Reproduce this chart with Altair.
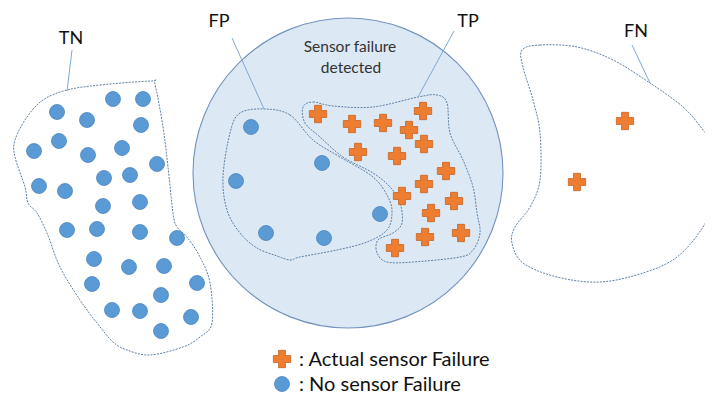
import altair as alt
import pandas as pd

# ---- data (pixel positions) ----
tn_x = [113, 143, 57, 87, 141, 34, 59, 88, 122, 157, 104, 130, 39, 65, 103, 140, 67, 97, 140, 177, 94, 129, 164, 197, 92, 161, 112, 140, 191, 161]
tn_y = [99, 99, 112, 120, 125, 151, 141, 155, 148, 164, 178, 175, 186, 191, 206, 202, 230, 229, 232, 238, 259, 267, 266, 283, 284, 295, 310, 311, 317, 331]

fp_x = [251, 322, 236, 380, 266, 324]
fp_y = [127, 163, 181, 214, 233, 238]

tp_x = [318, 352, 383, 423, 409, 424, 358, 397, 446, 424, 402, 454, 431, 395, 425, 461]
tp_y = [114, 124, 123, 111, 130, 144, 152, 156, 171, 184, 196, 201, 213, 248, 237, 233]

fn_x = [625, 577]
fn_y = [121, 182]

tn_out_x = [67, 100, 152, 155, 163, 168, 173, 177, 187, 200, 210, 212, 200, 183, 150, 127, 113, 97, 80, 60, 47, 37, 28, 25, 15, 15, 27, 43]
tn_out_y = [90, 85, 81, 84, 127, 167, 213, 227, 237, 257, 283, 323, 337, 347, 355, 350, 342, 323, 300, 267, 233, 213, 203, 187, 157, 140, 117, 100]

fp_out_x = [265, 290, 313, 340, 373, 388, 392, 387, 367, 337, 300, 290, 277, 257, 240, 227, 223, 230, 240]
fp_out_y = [109, 115, 140, 157, 177, 197, 213, 230, 242, 250, 257, 260, 256, 248, 233, 210, 177, 133, 113]

tp_out_x = [303, 313, 333, 373, 418, 437, 447, 450, 463, 473, 477, 480, 473, 460, 413, 387, 377, 378, 393, 402, 400, 390, 373, 343, 320, 305]
tp_out_y = [107, 102, 106, 107, 97, 95, 103, 133, 160, 187, 213, 233, 250, 257, 262, 262, 253, 240, 233, 223, 203, 187, 173, 157, 137, 123]

fn_out_x = [522, 540, 577, 613, 650, 683, 703, 713, 713, 703, 677, 643, 600, 557, 523, 512, 515, 530, 540, 540, 533, 523]
fn_out_y = [50, 45, 47, 60, 83, 107, 130, 147, 200, 227, 257, 273, 282, 277, 263, 243, 227, 207, 180, 133, 100, 67]

labels = ["TN", "FP", "TP", "FN"]
label_x = [71, 219, 468, 636]
label_baseline_y = [44, 26.5, 26.5, 37]

leader_x = [72, 232, 454, 632]
leader_y = [50, 38, 31, 45]
leader_x2 = [67, 264, 418, 650]
leader_y2 = [91, 109, 97, 83]

circle_x = [348]
circle_y = [173]
circle_diam = 310

inner_text = ["Sensor failure", "detected"]
inner_x = [350, 351]
inner_y = [47, 68]

legend_text = [": Actual sensor Failure", ": No sensor Failure"]
legend_sym_x = [282, 282]
legend_sym_y = [359, 384]
legend_txt_x = [299, 299]
legend_baseline_y = [366, 391]

# ---- tables ----
def outline(name, xs, ys):
    return pd.DataFrame({"x": xs, "y": ys, "i": range(len(xs)), "g": name})

outlines = pd.concat([
    outline("TN", tn_out_x, tn_out_y),
    outline("FP", fp_out_x, fp_out_y),
    outline("TP", tp_out_x, tp_out_y),
    outline("FN", fn_out_x, fn_out_y),
])
dots = pd.DataFrame({"x": tn_x + fp_x + [legend_sym_x[1]], "y": tn_y + fp_y + [legend_sym_y[1]]})
crosses = pd.DataFrame({"x": tp_x + fn_x + [legend_sym_x[0]], "y": tp_y + fn_y + [legend_sym_y[0]]})
lab = pd.DataFrame({"t": labels, "x": label_x, "y": label_baseline_y})
lead = pd.DataFrame({"x": leader_x, "y": leader_y, "x2": leader_x2, "y2": leader_y2})
circ = pd.DataFrame({"x": circle_x, "y": circle_y})
inner = pd.DataFrame({"t": inner_text, "x": inner_x, "y": inner_y})
leg = pd.DataFrame({"t": legend_text, "x": legend_txt_x, "y": legend_baseline_y})

X = alt.X("x:Q", scale=alt.Scale(domain=[8, 705], nice=False, zero=False), axis=None)
Y = alt.Y("y:Q", scale=alt.Scale(domain=[8, 395], nice=False, zero=False, reverse=True), axis=None)

FONT = "Lato"

big = alt.Chart(circ).mark_point(
    shape="circle", filled=True, fill="#DCE8F4", stroke="#7393BD", strokeWidth=1.1,
    opacity=1, size=circle_diam ** 2
).encode(x=X, y=Y)

blobs = alt.Chart(outlines).mark_line(
    interpolate="cardinal-closed", color="#5E7FA6", strokeWidth=1, strokeDash=[2, 1.2]
).encode(x=X, y=Y, detail="g:N", order="i:Q")

leaders = alt.Chart(lead).mark_rule(color="#7FA8D6", strokeWidth=1).encode(
    x=X, y=Y, x2="x2:Q", y2="y2:Q")

dot_layer = alt.Chart(dots).mark_point(
    shape="circle", filled=True, fill="#5B9BD5", stroke="#4A84BC", strokeWidth=0.8,
    opacity=1, size=225
).encode(x=X, y=Y)

cross_layer = alt.Chart(crosses).mark_point(
    shape="cross", filled=True, fill="#ED7D31", stroke="#C9631F", strokeWidth=0.8,
    opacity=1, size=300
).encode(x=X, y=Y)

label_layer = alt.Chart(lab).mark_text(
    font=FONT, fontSize=18, color="#111111", align="center", baseline="alphabetic"
).encode(x=X, y=Y, text="t:N")

inner_layer = alt.Chart(inner).mark_text(
    font=FONT, fontSize=15.5, color="#333333", align="center", baseline="middle"
).encode(x=X, y=Y, text="t:N")

legend_layer = alt.Chart(leg).mark_text(
    font=FONT, fontSize=20, color="#111111", align="left", baseline="alphabetic"
).encode(x=X, y=Y, text="t:N")

chart = alt.layer(
    big, blobs, leaders, dot_layer, cross_layer, label_layer, inner_layer, legend_layer
).properties(width=697, height=387, padding=0, autosize="none").configure_view(stroke=None)

chart.save("out.html", embed_options={"renderer": "svg", "actions": False})
